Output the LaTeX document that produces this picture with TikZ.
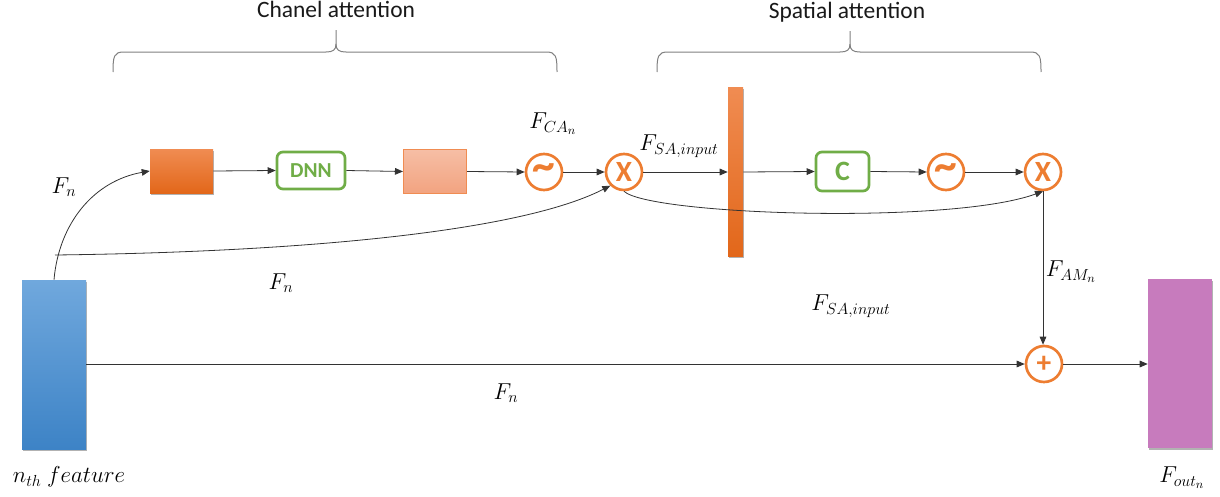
\documentclass[tikz,border=0pt]{standalone}
\usepackage{fontspec}
\setmainfont{Carlito}
\usetikzlibrary{arrows.meta,shadows}
\definecolor{orA}{RGB}{237,125,49}
\definecolor{grn}{RGB}{112,173,71}
\definecolor{orT}{RGB}{240,140,82}
\definecolor{orB}{RGB}{226,103,26}
\definecolor{saT}{RGB}{246,190,165}
\definecolor{saB}{RGB}{242,163,128}
\definecolor{bluT}{RGB}{112,168,221}
\definecolor{bluB}{RGB}{61,131,198}
\definecolor{pnk}{RGB}{199,123,189}
\begin{document}
\begin{tikzpicture}[x=0.75pt,y=-0.75pt,
  conn/.style={draw=black!80,line width=0.6pt,-{Triangle[length=6pt,width=5pt]}},
  op/.style={circle,draw=orA,line width=2pt,minimum size=27pt,inner sep=0pt,fill=white,text=orA,
    font=\fontsize{22}{22}\selectfont\bfseries},
  tl/.style={op,font=\fontsize{34}{34}\selectfont\bfseries},
  gbox/.style={draw=grn,line width=2pt,rounded corners=4.5pt,fill=white,text=grn,inner sep=0pt},
  shd/.style={drop shadow={shadow xshift=0.8pt,shadow yshift=-1.2pt,opacity=0.3,fill=black}},
  lbl/.style={font=\fontsize{18}{20}\selectfont,inner sep=0pt},
  brc/.style={draw=black!50,line width=0.75pt},
  ttl/.style={font=\fontsize{17.6}{20}\selectfont,text=black!90,inner sep=0pt,anchor=base}
]
\useasboundingbox (0,0) rectangle (1220,496);

% titles and braces
\node[ttl] (tca) at (336,17) {Chanel attention};
\node[ttl] (tsa) at (847,18) {Spatial attention};
\draw[brc] (113,72) .. controls (113,56) and (114,52) .. (124,52) -- (326,52)
  .. controls (333,52) and (336,50) .. (336,44) -- (336,30);
\draw[brc] (336,44) .. controls (336,50) and (339,52) .. (346,52) -- (546,52)
  .. controls (556,52) and (557,56) .. (557,72);
\draw[brc] (657,72) .. controls (657,56) and (658,52) .. (668,52) -- (840,52)
  .. controls (847,52) and (850,50) .. (850,44) -- (850,31);
\draw[brc] (850,44) .. controls (850,50) and (853,52) .. (860,52) -- (1030,52)
  .. controls (1040,52) and (1041,56) .. (1041,72);

% blocks
\node[shd,top color=bluT,bottom color=bluB,minimum width=48pt,minimum height=126.75pt,inner sep=0pt] (feat) at (54,364.5) {};
\node[shd,top color=orT,bottom color=orB,minimum width=47.25pt,minimum height=33pt,inner sep=0pt] (o1) at (181.5,171) {};
\node[gbox,minimum width=51pt,minimum height=27.75pt,font=\fontsize{16}{16}\selectfont\bfseries] (dnn) at (311,170.5) {DNN};
\node[top color=saT,bottom color=saB,draw=orT,line width=0.8pt,minimum width=47.25pt,minimum height=33pt,inner sep=0pt] (sal) at (435,171.5) {};
\node[tl] (s1) at (544,172) {\raisebox{-2.5pt}{\char`~}};
\node[op] (x1) at (624,172) {X};
\node[shd,top color=orT,bottom color=orB,minimum width=11.25pt,minimum height=126.75pt,inner sep=0pt] (bar) at (735.5,171.5) {};
\node[gbox,minimum width=39.75pt,minimum height=29.25pt,font=\fontsize{21}{21}\selectfont\bfseries] (cc) at (842.5,171.5) {C};
\node[tl] (s2) at (946,172) {\raisebox{-2.5pt}{\char`~}};
\node[op] (x2) at (1043,172) {X};
\node[op] (plus) at (1044,364) {+};
\node[shd,fill=pnk,minimum width=48pt,minimum height=126.75pt,inner sep=0pt] (out) at (1180,363.5) {};

% labels
\node[lbl] (lfn1) at (64,187) {$F_n$};
\node[lbl] (lfn2) at (281,283) {$F_n$};
\node[lbl] (lfn3) at (506,393) {$F_n$};
\node[lbl] (lfca) at (553,124) {$F_{CA_n}$};
\node[lbl] (lfsa1) at (679,146) {$F_{SA,input}$};
\node[lbl] (lfsa2) at (851,306) {$F_{SA,input}$};
\node[lbl] (lfam) at (1071,272) {$F_{AM_n}$};
\node[lbl] (lfout) at (1182,478) {$F_{out_n}$};
\node[lbl] (lfeat) at (69,477) {$n_{th}\ feature$};

% connectors
\draw[conn] (feat.north) to[out=85,in=190] (o1.west);
\coordinate (br) at (55,255);
\draw[conn] (br) .. controls (300,252) and (520,232) .. (x1.south west);
\draw[conn] (o1.east) -- (dnn.west);
\draw[conn] (dnn.east) -- (sal.west);
\draw[conn] (sal.east) -- (s1.west);
\draw[conn] (s1.east) -- (x1.west);
\draw[conn] (x1.east) -- (x1.east -| bar.west);
\draw[conn] (x1.east -| bar.east) -- (cc.west);
\draw[conn] (cc.east) -- (s2.west);
\draw[conn] (s2.east) -- (x2.west);
\draw[conn] (x1.south) .. controls (650,215) and (950,225) .. (x2.south);
\draw[conn] (x2.south) -- (x2.south |- plus.north);
\draw[conn] (feat.east |- plus.west) -- (plus.west);
\draw[conn] (plus.east) -- (plus.east -| out.west);
\end{tikzpicture}
\end{document}
